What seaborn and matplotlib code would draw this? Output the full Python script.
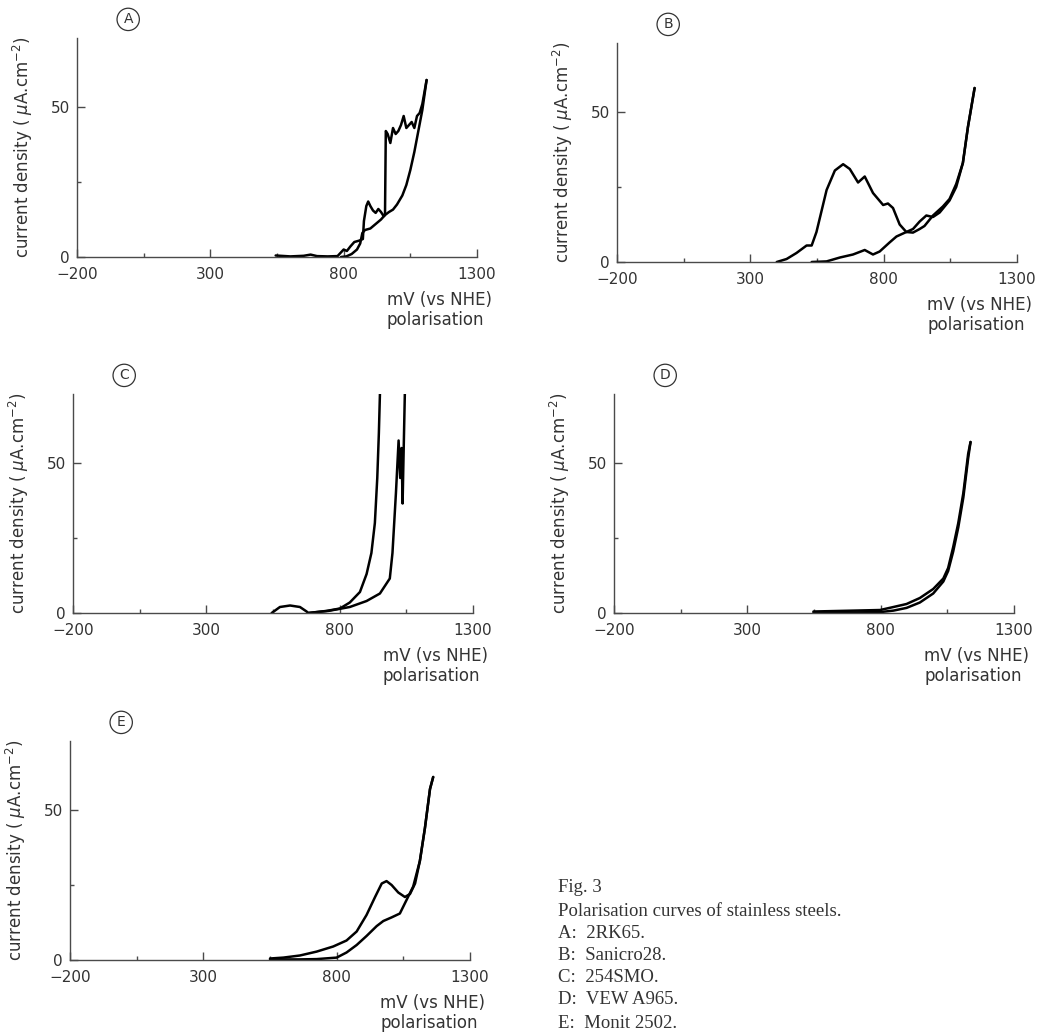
import matplotlib
matplotlib.use("Agg")
import matplotlib.pyplot as plt
import seaborn as sns

sns.set_theme(style="ticks")
plt.rcParams["font.family"] = ["DejaVu Sans"]

# 데이터
a_fwd_x = [545, 600, 650, 676, 700, 740, 777, 800, 812, 825, 840, 860, 872, 876, 885, 892, 900, 910, 920,
           930, 940, 950, 955, 958, 965, 975, 985, 995, 1005, 1015, 1025, 1035, 1045, 1055, 1065, 1075,
           1085, 1095, 1111]
a_fwd_y = [0.5, 0.2, 0.4, 0.8, 0.3, 0.2, 0.3, 2.5, 2.0, 3.5, 5.0, 5.5, 6.0, 12, 17, 18.5, 17, 15.5, 14.7,
           16, 15, 13.6, 14, 42, 41, 38, 43, 41, 42, 44, 47, 43, 44, 45, 43, 47, 48, 51, 59]
a_rev_x = [1111, 1095, 1080, 1065, 1050, 1035, 1020, 1000, 985, 970, 955, 940, 920, 900, 880, 870, 862,
           850, 830, 810, 790]
a_rev_y = [59, 49, 42, 35, 29, 24, 20.5, 17.5, 15.8, 15, 14, 12.5, 11, 9.5, 9, 8, 4.5, 2.5, 1, 0.2, 0]

b_fwd_x = [399, 436, 473, 511, 530, 548, 586, 617, 648, 673, 704, 729, 760, 798, 816, 835, 860, 885, 910,
           935, 953, 985, 1022, 1047, 1072, 1097, 1116, 1141]
b_fwd_y = [0, 1, 3, 5.5, 5.5, 10, 24, 30.5, 32.6, 31, 26.5, 28.5, 23, 19, 19.5, 18, 12.5, 10, 9.8, 11,
           12, 15.5, 18.5, 21, 26, 33, 45, 58]
b_rev_x = [1141, 1116, 1097, 1072, 1047, 1010, 985, 960, 935, 910, 885, 848, 822, 785, 760, 729, 685,
           636, 586, 530]
b_rev_y = [58, 45, 33, 25, 20.5, 16.5, 15, 15.5, 13.5, 11, 10, 8.5, 6.5, 3.5, 2.5, 4, 2.5, 1.5, 0.2, 0]

c_fwd_x = [545, 576, 614, 651, 676, 682, 758, 838, 901, 951, 988, 998, 1011, 1021, 1027, 1032, 1036,
           1039, 1046]
c_fwd_y = [0, 2, 2.5, 2, 0.5, 0, 0.7, 2, 4, 6.5, 11.5, 20, 40, 57.5, 45, 55, 36.5, 50, 80]
c_rev_x = [953, 951, 947, 941, 932, 919, 901, 876, 838, 801, 751, 682]
c_rev_y = [80, 73, 60, 45, 30, 20, 13, 7, 3.5, 1.5, 0.7, 0]

d_fwd_x = [548, 650, 750, 798, 848, 897, 947, 997, 1035, 1053, 1072, 1091, 1110, 1128, 1137]
d_fwd_y = [0.5, 0.7, 0.9, 1, 2, 3, 5, 8, 11.5, 15, 22, 30, 40, 53, 57]
d_rev_x = [1137, 1128, 1110, 1091, 1072, 1053, 1035, 997, 947, 897, 848, 798, 700, 548]
d_rev_y = [57, 51.5, 38.5, 28.5, 20.5, 14, 10.5, 6.5, 3.5, 1.7, 0.8, 0.3, 0.2, 0.2]

e_fwd_x = [550, 600, 662, 725, 787, 837, 875, 912, 944, 969, 987, 1006, 1031, 1056, 1075, 1094, 1112,
           1131, 1150, 1162]
e_fwd_y = [0.5, 0.8, 1.5, 2.8, 4.5, 6.5, 9.5, 15, 21, 25.5, 26.3, 25, 22.5, 21, 22, 25.5, 33, 44, 57, 61]
e_rev_x = [1162, 1150, 1131, 1112, 1087, 1062, 1037, 1006, 975, 950, 912, 875, 837, 800, 725, 662, 550]
e_rev_y = [61, 57, 44, 33, 24.5, 20, 15.5, 14.2, 13, 11.3, 8, 5, 2.5, 0.8, 0.3, 0.2, 0.2]

panels = ["A", "B", "C", "D", "E"]
x_ticks = [-200, 300, 800, 1300]
x_minor = [50, 550, 1050]

caption = ["Fig. 3", "Polarisation curves of stainless steels.", "A:  2RK65.", "B:  Sanicro28.",
           "C:  254SMO.", "D:  VEW A965.", "E:  Monit 2502."]

series = {
    "A": (a_fwd_x, a_fwd_y, a_rev_x, a_rev_y),
    "B": (b_fwd_x, b_fwd_y, b_rev_x, b_rev_y),
    "C": (c_fwd_x, c_fwd_y, c_rev_x, c_rev_y),
    "D": (d_fwd_x, d_fwd_y, d_rev_x, d_rev_y),
    "E": (e_fwd_x, e_fwd_y, e_rev_x, e_rev_y),
}

# 위치 (픽셀 -> 비율)
W, H = 1039, 1034
boxes = {
    "A": (77, 257),
    "B": (617, 262),
    "C": (73, 613),
    "D": (614, 613),
    "E": (70, 960),
}

fig = plt.figure(figsize=(W / 100, H / 100), dpi=100)
grey = "#4a4a4a"
txt = "#333333"

for p in panels:
    left, base = boxes[p]
    ax = fig.add_axes([left / W, 1 - base / H, 400 / W, 219 / H])
    fx, fy, rx, ry = series[p]
    sns.lineplot(x=fx, y=fy, sort=False, estimator=None, color="black", lw=1.8, ax=ax)
    sns.lineplot(x=rx, y=ry, sort=False, estimator=None, color="black", lw=1.8, ax=ax)
    ax.set_xlim(-200, 1300)
    ax.set_ylim(0, 73)
    sns.despine(ax=ax)
    for s in ["left", "bottom"]:
        ax.spines[s].set_color(grey)
        ax.spines[s].set_linewidth(1.0)
    ax.set_xticks(x_ticks)
    ax.set_xticks(x_minor, minor=True)
    ax.set_yticks([0, 50])
    ax.set_yticks([25], minor=True)
    ax.tick_params(which="major", direction="in", length=6, width=1, color=grey,
                   labelsize=11, labelcolor=txt)
    ax.tick_params(axis="x", which="major", pad=7)
    ax.tick_params(axis="y", which="major", pad=5)
    ax.tick_params(which="minor", direction="in", length=3, width=1, color=grey)
    ax.set_xlabel("")
    ax.set_ylabel("current density ( $\\mu$A.cm$^{-2}$)", fontsize=12, color=txt)
    ax.yaxis.set_label_coords(-0.105, 0.5)
    ax.text(0.775, -0.196, "mV (vs NHE)", transform=ax.transAxes, fontsize=12,
            color=txt, ha="left", va="center")
    ax.text(0.775, -0.287, "polarisation", transform=ax.transAxes, fontsize=12,
            color=txt, ha="left", va="center")
    ax.text(0.128, 1.085, p, transform=ax.transAxes, fontsize=10, color=txt,
            ha="center", va="center",
            bbox=dict(boxstyle="circle,pad=0.3", fc="white", ec=txt, lw=0.9))

# 캡션
cap_y = [888, 912, 933, 955, 978, 1000, 1023]
for line, yy in zip(caption, cap_y):
    fig.text(558 / W, 1 - yy / H, line, fontsize=13.5, family="Liberation Serif",
             color=txt, ha="left", va="center")

fig.savefig("out.png", dpi=100)
